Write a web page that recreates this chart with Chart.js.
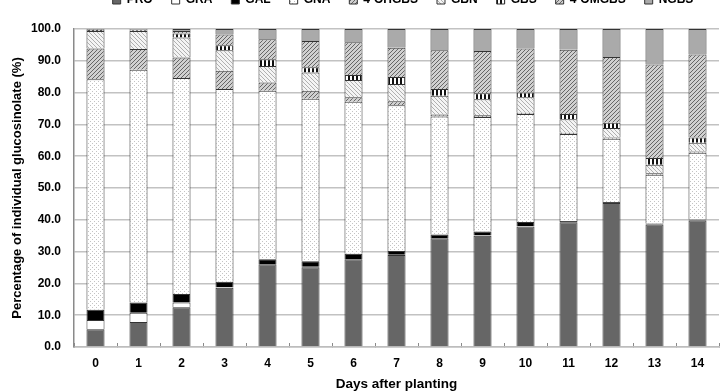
<!DOCTYPE html>
<html>
<head>
<meta charset="utf-8">
<script src="https://cdn.jsdelivr.net/npm/chart.js@4"></script>
<style>
  html,body{margin:0;padding:0;background:#fff;}
  #wrap{position:relative;width:722px;height:392px;overflow:hidden;}
  #chart{position:absolute;left:0;top:-25px;}
</style>
</head>
<body>
<div id="wrap"><canvas id="chart" width="722" height="417"></canvas></div>
<script>
// --------- DATA ----------
const days = ['0','1','2','3','4','5','6','7','8','9','10','11','12','13','14'];
const seriesNames = ['PRO','GRA','GAL','GNA','4-OHGBS','GBN','GBS','4-OMGBS','NGBS'];

const pro    = [5.6, 7.9, 12.5, 18.6, 26.0, 25.1, 27.6, 28.9, 34.2, 35.0, 37.9, 39.2, 45.3, 38.5, 39.8];
const gra    = [2.9, 2.9, 1.5, 0.2, 0.1, 0.1, 0.1, 0.1, 0.1, 0.1, 0.1, 0.0, 0.0, 0.0, 0.0];
const gal    = [3.2, 3.2, 2.7, 1.7, 1.5, 1.8, 1.6, 1.2, 1.1, 1.2, 1.3, 0.4, 0.3, 0.3, 0.3];
const gna    = [72.5, 73.2, 67.9, 60.6, 53.0, 51.1, 47.8, 45.8, 37.1, 36.0, 34.0, 27.4, 19.9, 15.4, 21.0];
const ohgbs  = [9.7, 6.5, 6.4, 5.8, 2.6, 2.5, 1.4, 1.3, 0.6, 0.6, 0.4, 0.4, 0.4, 0.4, 0.4];
const gbn    = [5.5, 5.7, 6.3, 6.4, 5.2, 5.7, 5.5, 5.4, 5.9, 5.0, 4.8, 4.2, 3.0, 2.7, 2.7];
const gbs    = [0.3, 0.2, 1.3, 1.6, 2.1, 1.7, 1.5, 2.2, 2.1, 1.9, 1.5, 1.7, 1.6, 2.1, 1.7];
const omgbs  = [0.2, 0.2, 0.8, 3.4, 6.3, 8.2, 10.3, 9.2, 12.2, 13.3, 13.9, 20.2, 20.7, 29.4, 26.1];
const ngbs   = [0.3, 0.2, 0.6, 1.7, 3.2, 3.8, 4.2, 5.9, 6.7, 6.9, 6.1, 6.5, 8.8, 11.2, 8.0];

const yTicks = [0,10,20,30,40,50,60,70,80,90,100];

// --------- PATTERNS ----------
function pattern(size, bg, draw){
  const c = document.createElement('canvas');
  c.width = size; c.height = size;
  const g = c.getContext('2d');
  g.fillStyle = bg; g.fillRect(0,0,size,size);
  draw(g, size);
  return g.createPattern(c, 'repeat');
}
const dots = pattern(4, '#ffffff', (g)=>{ g.fillStyle='#c4c4c4'; g.fillRect(0,0,1,1); g.fillRect(2,2,1,1); });
const fwd = pattern(4, '#d0d0d0', (g,s)=>{
  g.strokeStyle='#666666'; g.lineWidth=1;
  g.beginPath(); g.moveTo(0,s); g.lineTo(s,0); g.moveTo(-1,1); g.lineTo(1,-1); g.moveTo(s-1,s+1); g.lineTo(s+1,s-1); g.stroke();
});
const back = pattern(4, '#f4f4f4', (g,s)=>{
  g.strokeStyle='#b0b0b0'; g.lineWidth=1;
  g.beginPath(); g.moveTo(0,0); g.lineTo(s,s); g.moveTo(s-1,-1); g.lineTo(s+1,1); g.moveTo(-1,s-1); g.lineTo(1,s+1); g.stroke();
});
const vstripe = pattern(4, '#ffffff', (g,s)=>{ g.fillStyle='#111'; g.fillRect(0,0,2,s); });

const fills = ['#666666', '#ffffff', '#000000', dots, fwd, back, vstripe, fwd, '#aaaaaa'];
const values = [pro, gra, gal, gna, ohgbs, gbn, gbs, omgbs, ngbs];

const font = "'Liberation Sans', Arial, sans-serif";

// legend height fixed, legend centred over the plot
const legendFit = {
  id:'legendFit',
  beforeLayout(chart){
    const lg = chart.legend;
    if (lg && !lg._fixed){
      const f = lg.fit;
      lg.fit = function(){ f.call(this); this.height = 54; };
      lg._fixed = true;
    }
  },
  afterLayout(chart){
    const lg = chart.legend;
    if (lg){ lg.left = 84; lg.right = 722; }
  }
};

new Chart(document.getElementById('chart'), {
  type:'bar',
  data:{
    labels: days,
    datasets: seriesNames.map((n,i)=>({
      label:n,
      data: values[i],
      backgroundColor: fills[i],
      borderColor:'#333333',
      borderWidth:1,
      barPercentage:0.42,
      categoryPercentage:1.0
    }))
  },
  options:{
    responsive:false,
    animation:false,
    layout:{padding:{left:0,right:3,top:0,bottom:0}},
    plugins:{
      legend:{
        position:'top',
        labels:{
          color:'#000',
          font:{family:font, size:12, weight:'bold'},
          boxWidth:8, boxHeight:8,
          padding:19
        }
      },
      tooltip:{enabled:false}
    },
    scales:{
      x:{
        stacked:true,
        grid:{display:true, drawOnChartArea:false, drawTicks:true, tickLength:-4, color:'#8a8a8a', lineWidth:1, offset:true},
        border:{color:'#bdbdbd', width:1.5},
        ticks:{color:'#000', font:{family:font, size:12, weight:'bold'}, padding:13},
        title:{display:true, text:'Days after planting', color:'#000', font:{family:font, size:13.5, weight:'bold'}, padding:{top:0,bottom:0}},
        afterFit(s){ s.height = 45; }
      },
      y:{
        stacked:true,
        min:0, max:100,
        afterBuildTicks(s){ s.ticks = yTicks.map(v=>({value:v})); },
        grid:{color:'#c2c2c2', lineWidth:1.5, drawTicks:false},
        border:{color:'#8a8a8a', width:1.5},
        ticks:{color:'#000', font:{family:font, size:12, weight:'bold'}, padding:13, callback:v=>v.toFixed(1)},
        title:{display:true, text:'Percentage of individual glucosinolate (%)', color:'#000', font:{family:font, size:13, weight:'bold'}, padding:{top:10,bottom:0}},
        afterFit(s){ s.width = 74; }
      }
    }
  },
  plugins:[legendFit]
});
</script>
</body>
</html>
